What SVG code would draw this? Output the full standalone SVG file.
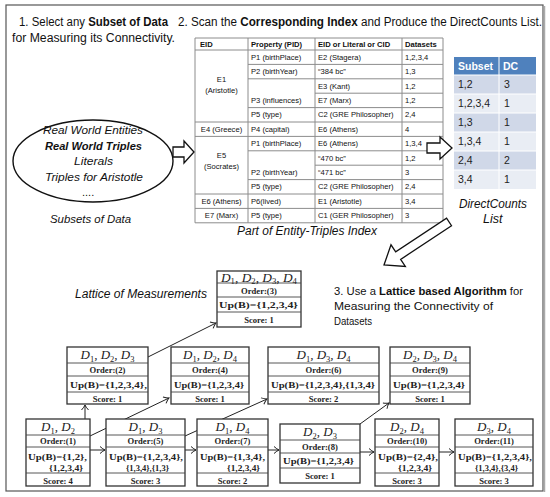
<svg xmlns="http://www.w3.org/2000/svg" width="550" height="497" viewBox="0 0 550 497">
<defs>
<style>
.cal{font-family:"Liberation Sans",Arial,sans-serif;fill:#111}
.hd{font-size:12px}
.hd3{font-size:11.2px}
.b{font-weight:bold}
.it{font-style:italic}
.tb{font-family:"Liberation Sans",Arial,sans-serif;font-size:7.6px;fill:#111}
.tbh{font-weight:bold}
.tl{stroke:#8c8c8c;stroke-width:1;fill:none}
.dc{font-family:"Liberation Sans",Arial,sans-serif;font-size:10.5px;fill:#222}
.nb{fill:#fff;stroke:#333;stroke-width:1.3}
.nl{stroke:#444;stroke-width:0.9}
.tt{font-family:"Liberation Serif","Times New Roman",serif;font-size:13px;font-style:italic;fill:#222}
.sb{font-size:8.5px;font-style:normal}
.nt{font-family:"Liberation Serif","Times New Roman",serif;font-size:8.6px;font-weight:bold;fill:#222}
.blk{fill:#fff;stroke:#111;stroke-width:1.3}
.con{stroke:#222;stroke-width:1;fill:none;marker-end:url(#ah)}
</style>
<marker id="ah" markerUnits="userSpaceOnUse" markerWidth="10" markerHeight="10" viewBox="-6 -5 8 10" refX="0" refY="0" orient="auto">
<path d="M-5,-3.5 Q-2,-0.8 0,0 Q-2,0.8 -5,3.5" fill="none" stroke="#222" stroke-width="1"/>
</marker>
</defs>
<rect width="550" height="497" fill="#fff"/>
<rect x="6" y="5" width="537" height="486" fill="none" stroke="#555" stroke-width="1.2"/>
<line x1="544.5" y1="6" x2="544.5" y2="492" stroke="#aaa" stroke-width="1.5"/>

<!-- headings -->
<g id="heading1">
<text class="cal hd" x="19" y="26" textLength="149" lengthAdjust="spacingAndGlyphs">1. Select any <tspan class="b">Subset of Data</tspan></text>
<text class="cal hd" x="12" y="42" textLength="163" lengthAdjust="spacingAndGlyphs">for Measuring its Connectivity.</text>
</g>
<g id="heading2">
<text class="cal hd" x="178" y="26" textLength="364" lengthAdjust="spacingAndGlyphs">2. Scan the <tspan class="b">Corresponding Index</tspan> and Produce the DirectCounts List.</text>
</g>
<g id="heading3">
<text class="cal hd3" x="334" y="295" textLength="189" lengthAdjust="spacingAndGlyphs">3. Use a <tspan class="b">Lattice based Algorithm</tspan> for</text>
<text class="cal hd3" x="334" y="310" textLength="159" lengthAdjust="spacingAndGlyphs">Measuring the Connectivity of</text>
<text class="cal hd3" x="334" y="325" textLength="38" lengthAdjust="spacingAndGlyphs">Datasets</text>
</g>

<!-- subsets ellipse -->
<g id="subsets">
<ellipse cx="93" cy="161" rx="80" ry="41" fill="#fff" stroke="#111" stroke-width="1.4"/>
<text class="cal it" font-size="11.5" x="43" y="134" textLength="100" lengthAdjust="spacingAndGlyphs">Real World Entities</text>
<text class="cal it b" font-size="11.5" x="45" y="150" textLength="97" lengthAdjust="spacingAndGlyphs">Real World Triples</text>
<text class="cal it" font-size="11.5" x="74" y="165" textLength="39" lengthAdjust="spacingAndGlyphs">Literals</text>
<text class="cal it" font-size="11.5" x="45" y="181" textLength="98" lengthAdjust="spacingAndGlyphs">Triples for Aristotle</text>
<text class="cal" font-size="11" x="82" y="196">....</text>
<text class="cal it" font-size="11.5" x="50" y="223" textLength="81" lengthAdjust="spacingAndGlyphs">Subsets of Data</text>
</g>

<!-- index table -->
<g id="index-table">
<g class="tl">
<path d="M195,38H443M195,50H443M248,64.4H443M248,78.8H443M315,93.2H443M248,107.6H443M195,122H443M195,136.4H443M248,150.8H443M315,165.2H443M248,179.6H443M195,194H443M195,208.4H443M195,222.8H443"/>
<path d="M195,38V222.8M248,38V222.8M315,38V222.8M402,38V222.8M443,38V222.8"/>
</g>
<text class="tb tbh" x="200" y="47">EID</text>
<text class="tb tbh" x="251" y="47">Property (PID)</text>
<text class="tb tbh" x="318" y="47">EID or Literal or CID</text>
<text class="tb tbh" x="405" y="47">Datasets</text>
<g text-anchor="middle">
<text class="tb" x="221.5" y="82">E1</text>
<text class="tb" x="221.5" y="93">(Aristotle)</text>
<text class="tb" x="221.5" y="132">E4 (Greece)</text>
<text class="tb" x="221.5" y="158">E5</text>
<text class="tb" x="221.5" y="169">(Socrates)</text>
<text class="tb" x="221.5" y="204">E6 (Athens)</text>
<text class="tb" x="221.5" y="218">E7 (Marx)</text>
</g>
<text class="tb" x="251" y="60">P1 (birthPlace)</text>
<text class="tb" x="251" y="74">P2 (birthYear)</text>
<text class="tb" x="251" y="103">P3 (influences)</text>
<text class="tb" x="251" y="117">P5 (type)</text>
<text class="tb" x="251" y="132">P4 (capital)</text>
<text class="tb" x="251" y="146">P1 (birthPlace)</text>
<text class="tb" x="251" y="175">P2 (birthYear)</text>
<text class="tb" x="251" y="189">P5 (type)</text>
<text class="tb" x="251" y="204">P6(lived)</text>
<text class="tb" x="251" y="218">P5 (type)</text>

<text class="tb" x="318" y="60">E2 (Stagera)</text>
<text class="tb" x="318" y="74">“384 bc”</text>
<text class="tb" x="318" y="89">E3 (Kant)</text>
<text class="tb" x="318" y="103">E7 (Marx)</text>
<text class="tb" x="318" y="117">C2 (GRE Philosopher)</text>
<text class="tb" x="318" y="132">E6 (Athens)</text>
<text class="tb" x="318" y="146">E6 (Athens)</text>
<text class="tb" x="318" y="161">“470 bc”</text>
<text class="tb" x="318" y="175">“471 bc”</text>
<text class="tb" x="318" y="189">C2 (GRE Philosopher)</text>
<text class="tb" x="318" y="204">E1 (Aristotle)</text>
<text class="tb" x="318" y="218">C1 (GER Philosopher)</text>

<text class="tb" x="405" y="60">1,2,3,4</text>
<text class="tb" x="405" y="74">1,3</text>
<text class="tb" x="405" y="89">1,2</text>
<text class="tb" x="405" y="103">1,2</text>
<text class="tb" x="405" y="117">2,4</text>
<text class="tb" x="405" y="132">4</text>
<text class="tb" x="405" y="146">1,3,4</text>
<text class="tb" x="405" y="161">1,2</text>
<text class="tb" x="405" y="175">3</text>
<text class="tb" x="405" y="189">2,4</text>
<text class="tb" x="405" y="204">3,4</text>
<text class="tb" x="405" y="218">3</text>
<text class="cal it" font-size="12" x="237" y="235" textLength="140" lengthAdjust="spacingAndGlyphs">Part of Entity-Triples Index</text>
</g>

<!-- direct counts list -->
<g id="dc-list">
<rect x="454" y="57" width="82" height="18" fill="#4f81bd"/>
<rect x="454" y="75" width="82" height="19" fill="#d0d8e8"/>
<rect x="454" y="94" width="82" height="19" fill="#e9edf4"/>
<rect x="454" y="113" width="82" height="19" fill="#d0d8e8"/>
<rect x="454" y="132" width="82" height="19" fill="#e9edf4"/>
<rect x="454" y="151" width="82" height="19" fill="#d0d8e8"/>
<rect x="454" y="170" width="82" height="19" fill="#e9edf4"/>
<path d="M454,75H536M454,94H536M454,113H536M454,132H536M454,151H536M454,170H536M499,57V189" stroke="#fff" stroke-width="1"/>
<text class="dc b" x="458" y="70" style="fill:#fff">Subset</text>
<text class="dc b" x="503" y="70" style="fill:#fff">DC</text>
<text class="dc" x="458" y="88">1,2</text><text class="dc" x="504" y="88">3</text>
<text class="dc" x="458" y="107">1,2,3,4</text><text class="dc" x="504" y="107">1</text>
<text class="dc" x="458" y="126">1,3</text><text class="dc" x="504" y="126">1</text>
<text class="dc" x="458" y="145">1,3,4</text><text class="dc" x="504" y="145">1</text>
<text class="dc" x="458" y="164">2,4</text><text class="dc" x="504" y="164">2</text>
<text class="dc" x="458" y="183">3,4</text><text class="dc" x="504" y="183">1</text>
<text class="cal it" font-size="12.5" x="459" y="208" textLength="68" lengthAdjust="spacingAndGlyphs">DirectCounts</text>
<text class="cal it" font-size="12.5" x="483" y="223">List</text>
</g>

<!-- block arrows -->
<g id="block-arrows">
<polygon class="blk" points="173,147 184,147 184,141 194,152 184,163 184,157 173,157"/>
<polygon class="blk" points="427,143 440,143 440,137 452,148 440,159 440,153 427,153"/>
<polygon class="blk" transform="translate(384,265) rotate(146.5)" points="-78,-4.5 -17,-4.5 -17,-13 0,0 -17,13 -17,4.5 -78,4.5"/>
</g>

<text class="cal it" font-size="12.5" x="75" y="298" textLength="132" lengthAdjust="spacingAndGlyphs">Lattice of Measurements</text>

<!-- connectors -->
<g id="connectors">
<path class="con" d="M148,357L216,323"/>
<path class="con" d="M85,419L85,405"/>
<path class="con" d="M90,436L169,398"/>
<path class="con" d="M90,450L105,450"/>
<path class="con" d="M185,436L267,399"/>
<path class="con" d="M185,450L196,450"/>
<path class="con" d="M268,450L279,450"/>
<path class="con" d="M360,424L389,403"/>
<path class="con" d="M360,452L374,452"/>
<path class="con" d="M439,452L454,452"/>
</g>

<!-- lattice nodes -->
<g id="n3">
<rect class="nb" x="217" y="271" width="84" height="56"/>
<path class="nl" d="M217,283H301M217,297H301M217,312H301"/>
<text class="tt" x="221" y="281.5" textLength="76" lengthAdjust="spacingAndGlyphs">D<tspan class="sb" dy="2.5">1</tspan><tspan dy="-2.5">, D</tspan><tspan class="sb" dy="2.5">2</tspan><tspan dy="-2.5">, D</tspan><tspan class="sb" dy="2.5">3</tspan><tspan dy="-2.5">, D</tspan><tspan class="sb" dy="2.5">4</tspan></text>
<text class="nt" x="259" y="293.5" text-anchor="middle">Order:(3)</text>
<text class="nt" x="219" y="307.5" textLength="79" lengthAdjust="spacingAndGlyphs">Up(B)={1,2,3,4}</text>
<text class="nt" x="259" y="322.5" text-anchor="middle">Score: 1</text>
</g>

<g id="n2">
<rect class="nb" x="67" y="347" width="81" height="57"/>
<path class="nl" d="M67,363H148M67,376H148M67,392H148"/>
<text class="tt" x="107.5" y="359" text-anchor="middle">D<tspan class="sb" dy="2.5">1</tspan><tspan dy="-2.5">, D</tspan><tspan class="sb" dy="2.5">2</tspan><tspan dy="-2.5">, D</tspan><tspan class="sb" dy="2.5">3</tspan></text>
<text class="nt" x="107.5" y="373" text-anchor="middle">Order:(2)</text>
<text class="nt" x="70" y="388" textLength="77" lengthAdjust="spacingAndGlyphs">Up(B)={1,2,3,4},</text>
<text class="nt" x="107.5" y="401.5" text-anchor="middle">Score: 1</text>
</g>

<g id="n4">
<rect class="nb" x="171" y="347" width="78" height="57"/>
<path class="nl" d="M171,363H249M171,376H249M171,392H249"/>
<text class="tt" x="210" y="359" text-anchor="middle">D<tspan class="sb" dy="2.5">1</tspan><tspan dy="-2.5">, D</tspan><tspan class="sb" dy="2.5">2</tspan><tspan dy="-2.5">, D</tspan><tspan class="sb" dy="2.5">4</tspan></text>
<text class="nt" x="210" y="373" text-anchor="middle">Order:(4)</text>
<text class="nt" x="174" y="388" textLength="70" lengthAdjust="spacingAndGlyphs">Up(B)={1,2,3,4}</text>
<text class="nt" x="210" y="401.5" text-anchor="middle">Score: 1</text>
</g>

<g id="n6">
<rect class="nb" x="268" y="347" width="111" height="57"/>
<path class="nl" d="M268,363H379M268,376H379M268,392H379"/>
<text class="tt" x="323.5" y="359" text-anchor="middle">D<tspan class="sb" dy="2.5">1</tspan><tspan dy="-2.5">, D</tspan><tspan class="sb" dy="2.5">3</tspan><tspan dy="-2.5">, D</tspan><tspan class="sb" dy="2.5">4</tspan></text>
<text class="nt" x="323.5" y="373" text-anchor="middle">Order:(6)</text>
<text class="nt" x="271" y="388" textLength="104" lengthAdjust="spacingAndGlyphs">Up(B)={1,2,3,4},{1,3,4}</text>
<text class="nt" x="323.5" y="401.5" text-anchor="middle">Score: 2</text>
</g>

<g id="n9">
<rect class="nb" x="390" y="347" width="80" height="57"/>
<path class="nl" d="M390,363H470M390,376H470M390,392H470"/>
<text class="tt" x="430" y="359" text-anchor="middle">D<tspan class="sb" dy="2.5">2</tspan><tspan dy="-2.5">, D</tspan><tspan class="sb" dy="2.5">3</tspan><tspan dy="-2.5">, D</tspan><tspan class="sb" dy="2.5">4</tspan></text>
<text class="nt" x="430" y="373" text-anchor="middle">Order:(9)</text>
<text class="nt" x="393" y="388" textLength="72" lengthAdjust="spacingAndGlyphs">Up(B)={1,2,3,4}</text>
<text class="nt" x="430" y="401.5" text-anchor="middle">Score: 1</text>
</g>

<g id="n1">
<rect class="nb" x="26" y="419" width="64" height="67"/>
<path class="nl" d="M26,435H90M26,447H90M26,473H90"/>
<text class="tt" x="58" y="431" text-anchor="middle">D<tspan class="sb" dy="2.5">1</tspan><tspan dy="-2.5">, D</tspan><tspan class="sb" dy="2.5">2</tspan></text>
<text class="nt" x="58" y="444" text-anchor="middle">Order:(1)</text>
<text class="nt" x="28" y="460" textLength="59" lengthAdjust="spacingAndGlyphs">Up(B)={1,2},</text>
<text class="nt" x="49" y="470.5" textLength="34" lengthAdjust="spacingAndGlyphs">{1,2,3,4}</text>
<text class="nt" x="58" y="483.5" text-anchor="middle">Score: 4</text>
</g>

<g id="n5">
<rect class="nb" x="106" y="419" width="79" height="67"/>
<path class="nl" d="M106,435H185M106,447H185M106,473H185"/>
<text class="tt" x="145.5" y="431" text-anchor="middle">D<tspan class="sb" dy="2.5">1</tspan><tspan dy="-2.5">, D</tspan><tspan class="sb" dy="2.5">3</tspan></text>
<text class="nt" x="145.5" y="444" text-anchor="middle">Order:(5)</text>
<text class="nt" x="109" y="460" textLength="74" lengthAdjust="spacingAndGlyphs">Up(B)={1,2,3,4},</text>
<text class="nt" x="126" y="470.5" textLength="43" lengthAdjust="spacingAndGlyphs">{1,3,4},{1,3}</text>
<text class="nt" x="145.5" y="483.5" text-anchor="middle">Score: 3</text>
</g>

<g id="n7">
<rect class="nb" x="197" y="419" width="71" height="67"/>
<path class="nl" d="M197,435H268M197,447H268M197,473H268"/>
<text class="tt" x="232.5" y="431" text-anchor="middle">D<tspan class="sb" dy="2.5">1</tspan><tspan dy="-2.5">, D</tspan><tspan class="sb" dy="2.5">4</tspan></text>
<text class="nt" x="232.5" y="444" text-anchor="middle">Order:(7)</text>
<text class="nt" x="200" y="460" textLength="65" lengthAdjust="spacingAndGlyphs">Up(B)={1,3,4},</text>
<text class="nt" x="227" y="470.5" textLength="33" lengthAdjust="spacingAndGlyphs">{1,2,3,4}</text>
<text class="nt" x="232.5" y="483.5" text-anchor="middle">Score: 2</text>
</g>

<g id="n8">
<rect class="nb" x="280" y="424" width="80" height="59"/>
<path class="nl" d="M280,440H360M280,453H360M280,468H360"/>
<text class="tt" x="320" y="436" text-anchor="middle">D<tspan class="sb" dy="2.5">2</tspan><tspan dy="-2.5">, D</tspan><tspan class="sb" dy="2.5">3</tspan></text>
<text class="nt" x="320" y="449.5" text-anchor="middle">Order:(8)</text>
<text class="nt" x="283" y="463.5" textLength="71" lengthAdjust="spacingAndGlyphs">Up(B)={1,2,3,4}</text>
<text class="nt" x="320" y="478.5" text-anchor="middle">Score: 1</text>
</g>

<g id="n10">
<rect class="nb" x="375" y="419" width="64" height="67"/>
<path class="nl" d="M375,435H439M375,447H439M375,473H439"/>
<text class="tt" x="407" y="431" text-anchor="middle">D<tspan class="sb" dy="2.5">2</tspan><tspan dy="-2.5">, D</tspan><tspan class="sb" dy="2.5">4</tspan></text>
<text class="nt" x="407" y="444" text-anchor="middle">Order:(10)</text>
<text class="nt" x="378" y="460" textLength="60" lengthAdjust="spacingAndGlyphs">Up(B)={2,4},</text>
<text class="nt" x="398" y="470.5" textLength="34" lengthAdjust="spacingAndGlyphs">{1,2,3,4}</text>
<text class="nt" x="407" y="483.5" text-anchor="middle">Score: 3</text>
</g>

<g id="n11">
<rect class="nb" x="455" y="419" width="78" height="67"/>
<path class="nl" d="M455,435H533M455,447H533M455,473H533"/>
<text class="tt" x="494" y="431" text-anchor="middle">D<tspan class="sb" dy="2.5">3</tspan><tspan dy="-2.5">, D</tspan><tspan class="sb" dy="2.5">4</tspan></text>
<text class="nt" x="494" y="444" text-anchor="middle">Order:(11)</text>
<text class="nt" x="458" y="460" textLength="74" lengthAdjust="spacingAndGlyphs">Up(B)={1,2,3,4},</text>
<text class="nt" x="475" y="470.5" textLength="43" lengthAdjust="spacingAndGlyphs">{1,3,4},{3,4}</text>
<text class="nt" x="494" y="483.5" text-anchor="middle">Score: 3</text>
</g>
</svg>
